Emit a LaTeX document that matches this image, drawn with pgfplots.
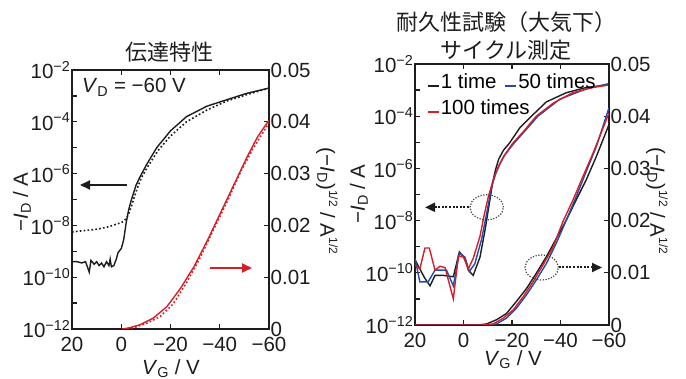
\documentclass[border=0pt]{standalone}
\usepackage{pgfplots}
\pgfplotsset{compat=1.18}
\usepackage{fontspec}
\setmainfont{Liberation Sans}
\newfontfamily\jp{Noto Sans CJK JP}
\usetikzlibrary{arrows.meta}
\definecolor{rred}{RGB}{215,30,38}
\definecolor{bblue}{RGB}{30,78,165}
\definecolor{kblack}{RGB}{30,28,28}
\newcommand{\tfnt}{\fontsize{20.5}{22}\selectfont}
\newcommand{\hsup}[1]{\raisebox{0.8ex}{\fontsize{12}{12}\selectfont #1}}
\begin{document}
\begin{tikzpicture}
\useasboundingbox (0pt,0pt) rectangle (686pt,378pt);
% ---------------- left panel ----------------
\begin{axis}[at={(72pt,49pt)}, anchor=south west, scale only axis, width=197pt, height=259pt,
  ymode=log, ymin=1e-12, ymax=1e-2, x dir=reverse, xmin=-60, xmax=20,
  xtick={20,0,-20,-40,-60}, xticklabels={20,0,−20,−40,−60},
  ytick={1e-12,1e-10,1e-8,1e-6,1e-4,1e-2},
  yticklabels={{10\textsuperscript{−12}},{10\textsuperscript{−10}},{10\textsuperscript{−8}},{10\textsuperscript{−6}},{10\textsuperscript{−4}},{10\textsuperscript{−2}}},
  minor ytick={1e-11,1e-9,1e-7,1e-5,1e-3}, ytick pos=left,
  tick align=inside, major tick length=5pt, minor tick length=5pt,
  axis line style={line width=1.5pt, kblack}, every tick/.style={line width=1.3pt, kblack},
  tick label style={font=\tfnt, text=kblack},
  yticklabel style={inner sep=1.5pt}, xticklabel style={inner sep=1pt, yshift=-7pt}]
\addplot[line width=1.4pt, kblack] coordinates {
(20,3.98e-10)(18,3.98e-10)(16,3.55e-10)(14.5,3.98e-10)(13,1.58e-10)(12.3,4.47e-10)
(11,3.16e-10)(10,3.98e-10)(9,2.82e-10)(8,3.55e-10)(7,2.51e-10)(6,3.98e-10)(5,2.82e-10)
(4.5,5.01e-10)(4,2.51e-10)(3,2.82e-10)(2,5.01e-10)(1.3,8.91e-10)(0.5,1.12e-9)(0,1.26e-9)
(-1,2.82e-9)(-2,1.26e-8)(-3,3.98e-8)(-4,8.91e-8)(-5,1.78e-7)(-6,3.55e-7)(-7.5,7.08e-7)
(-10.3,2.24e-6)(-14.4,1.0e-5)(-20,4.47e-5)(-26.5,1.58e-4)(-34.7,3.98e-4)(-42.8,7.08e-4)
(-51,1.26e-3)(-60,2.0e-3)};
\addplot[line width=1.6pt, dash pattern=on 1.7pt off 2.2pt, kblack] coordinates {
(20,5.62e-9)(15,6.31e-9)(10,7.08e-9)(5,8.91e-9)(2,1.12e-8)(0,1.26e-8)(-2,1.78e-8)
(-3,2.82e-8)(-4,5.01e-8)(-5,1.0e-7)(-6.2,2.24e-7)(-8,6.31e-7)(-10.3,1.58e-6)(-15,7.94e-6)
(-20,2.82e-5)(-26.5,1.0e-4)(-34.7,2.82e-4)(-42.8,6.31e-4)(-51,1.12e-3)(-60,2.0e-3)};
\end{axis}
\begin{axis}[at={(72pt,49pt)}, anchor=south west, scale only axis, width=197pt, height=259pt,
  ymin=0, ymax=0.05, x dir=reverse, xmin=-60, xmax=20,
  axis x line=none, axis y line*=right, scaled y ticks=false,
  ytick={0,0.01,0.02,0.03,0.04,0.05}, yticklabels={0,0.01,0.02,0.03,0.04,0.05},
  tick align=inside, major tick length=5pt,
  axis line style={line width=1.5pt, kblack}, every tick/.style={line width=1.3pt, kblack},
  tick label style={font=\tfnt, text=kblack}, yticklabel style={inner sep=1.5pt}]
\addplot[line width=1.4pt, rred] coordinates {
(-0.4,0)(-3,0.0002)(-7.5,0.0008)(-13,0.0021)(-18.5,0.0043)(-24,0.0078)(-29.5,0.012)
(-35,0.0171)(-40.5,0.0226)(-45.9,0.028)(-51.4,0.0335)(-55.5,0.0372)(-60,0.0403)};
\addplot[line width=1.6pt, dash pattern=on 1.7pt off 2.2pt, rred] coordinates {
(-2.5,0)(-6,0.0004)(-10.3,0.0011)(-15.8,0.0024)(-21.2,0.0049)(-26.7,0.0091)(-32.2,0.0139)
(-37.7,0.0194)(-43.2,0.0248)(-48.7,0.0306)(-53.5,0.0348)(-60,0.0398)};
\end{axis}
% ---------------- right panel ----------------
\begin{axis}[at={(415pt,53pt)}, anchor=south west, scale only axis, width=194pt, height=261pt,
  ymode=log, ymin=1e-12, ymax=1e-2, x dir=reverse, xmin=-60, xmax=20,
  xtick={20,0,-20,-40,-60}, xticklabels={20,0,−20,−40,−60},
  ytick={1e-12,1e-10,1e-8,1e-6,1e-4,1e-2},
  yticklabels={{10\textsuperscript{−12}},{10\textsuperscript{−10}},{10\textsuperscript{−8}},{10\textsuperscript{−6}},{10\textsuperscript{−4}},{10\textsuperscript{−2}}},
  minor ytick={1e-11,1e-9,1e-7,1e-5,1e-3}, ytick pos=left,
  tick align=inside, major tick length=5pt, minor tick length=5pt,
  axis line style={line width=1.5pt, kblack}, every tick/.style={line width=1.3pt, kblack},
  tick label style={font=\tfnt, text=kblack},
  yticklabel style={inner sep=1.5pt}, xticklabel style={inner sep=1pt, yshift=-7pt},
  legend columns=2, legend cell align=left,
  legend style={draw=none, fill=none, at={(0.062,0.967)}, anchor=north west, font=\tfnt,
    inner sep=0pt, row sep=0pt,
    nodes={inner sep=1pt, text height=15pt, text depth=9pt},
    /tikz/every even column/.append style={column sep=7pt}},
  legend image code/.code={\draw[#1, line width=1.6pt] (0pt,0pt) -- (11pt,0pt);}]
\addplot[line width=1.4pt, kblack] coordinates {
(20,3.16e-10)(18,1.41e-10)(16,6.31e-11)(13.8,3.16e-11)(11.75,7.94e-11)(8.3,7.94e-11)
(4.2,7.08e-11)(1.7,6.31e-10)(-0.6,3.55e-10)(-2,1.26e-10)(-4,7.94e-11)(-6.8,3.98e-10)
(-8.9,4.47e-9)(-10.9,6.31e-8)(-12,2.82e-7)(-13.2,8.91e-7)(-14.5,2.24e-6)(-16.5,5.01e-6)
(-18.8,8.91e-6)(-23.2,3.55e-5)(-28,1.0e-4)(-34.2,3.55e-4)(-42.4,7.94e-4)(-50.6,1.26e-3)
(-60,1.58e-3)};
\addlegendentry{1 time}
\addplot[line width=1.4pt, bblue] coordinates {
(20,3.55e-10)(18,4.47e-11)(14.6,4.47e-11)(11.75,1.26e-10)(7,1.26e-10)(4.2,3.16e-11)
(1.7,5.62e-10)(-0.6,3.98e-10)(-2.4,1.12e-10)(-4.7,2.24e-10)(-7.5,2.0e-9)(-9.6,2.0e-8)
(-11.6,2.0e-7)(-13.3,6.31e-7)(-14.9,1.41e-6)(-16.9,3.16e-6)(-20.7,8.91e-6)(-25,2.51e-5)
(-30.7,1.0e-4)(-39.7,4.47e-4)(-50.6,1.12e-3)(-60,1.78e-3)};
\addlegendentry{50 times}
\addplot[line width=1.4pt, rred] coordinates {
(20,2.0e-10)(18,1.41e-10)(15.9,8.91e-10)(14.1,8.91e-10)(11.75,1.26e-10)(9.7,1.78e-10)
(7.6,1.58e-10)(4.2,1.0e-11)(2.1,4.47e-10)(0,3.98e-10)(-2,1.41e-10)(-4,3.55e-10)
(-6.8,2.51e-9)(-8.5,1.58e-8)(-10.2,7.94e-8)(-11.3,1.78e-7)(-12.8,5.01e-7)(-14.5,1.26e-6)
(-16.5,2.82e-6)(-20.2,8.91e-6)(-24.6,2.51e-5)(-30,1.0e-4)(-37,3.16e-4)(-45,7.94e-4)
(-53.4,1.26e-3)(-60,1.58e-3)};
\addlegendentry{\makebox[0pt][l]{100 times}}
\end{axis}
\begin{axis}[at={(415pt,53pt)}, anchor=south west, scale only axis, width=194pt, height=261pt,
  ymin=0, ymax=0.05, x dir=reverse, xmin=-60, xmax=20,
  axis x line=none, axis y line*=right, scaled y ticks=false,
  ytick={0,0.01,0.02,0.03,0.04,0.05}, yticklabels={0,0.01,0.02,0.03,0.04,0.05},
  tick align=inside, major tick length=5pt,
  axis line style={line width=1.5pt, kblack}, every tick/.style={line width=1.3pt, kblack},
  tick label style={font=\tfnt, text=kblack}, yticklabel style={inner sep=1.5pt}]
\addplot[line width=1.4pt, kblack] coordinates {
(20,0)(-6,0)(-9.5,0.0002)(-13.6,0.001)(-17.7,0.0022)(-21.8,0.0045)(-26,0.007)(-30,0.0099)
(-34.2,0.0131)(-38.3,0.0166)(-42.4,0.0201)(-46.5,0.024)(-50.6,0.0278)(-54.8,0.0323)
(-60,0.0384)};
\addplot[line width=1.4pt, bblue] coordinates {
(20,0)(-10,0)(-13.6,0.0002)(-17.7,0.0013)(-21.8,0.0032)(-26,0.0058)(-30,0.0086)
(-34.2,0.0118)(-38.3,0.0157)(-42.4,0.0201)(-46.5,0.0246)(-50.6,0.0294)(-54.8,0.0342)
(-60,0.0416)};
\addplot[line width=1.4pt, rred] coordinates {
(20,0)(-8.5,0)(-12.2,0.0002)(-16.4,0.0013)(-20.5,0.0029)(-24.6,0.0054)(-28.7,0.0083)
(-32.8,0.0115)(-37,0.015)(-41,0.0198)(-45.2,0.024)(-49.3,0.0285)(-53.4,0.0329)
(-60,0.0406)};
\end{axis}
% ---------------- annotations ----------------
\node[font=\jp\fontsize{22}{22}\selectfont, text=kblack] at (169pt,326pt) {伝達特性};
\node[font=\jp\fontsize{22}{22}\selectfont, text=kblack] at (506pt,356pt) {耐久性試験（大気下）};
\node[font=\jp\fontsize{22}{22}\selectfont, text=kblack] at (506pt,328pt) {サイクル測定};
\node[font=\tfnt, text=kblack, anchor=base west, inner sep=0pt] at (82pt,285pt) {\textit{V}\textsubscript{D} = −60 V};
\node[font=\tfnt, text=kblack, rotate=90] at (22pt,176pt) {−\textit{I}\textsubscript{D} / A};
\node[font=\tfnt, text=kblack, rotate=90] at (359pt,184pt) {−\textit{I}\textsubscript{D} / A};
\node[font=\tfnt, text=kblack, rotate=-90] at (327pt,177pt) {(−\textit{I}\textsubscript{D})\hsup{1/2} / A\hsup{1/2}};
\node[font=\tfnt, text=kblack, rotate=-90] at (657pt,177pt) {(−\textit{I}\textsubscript{D})\hsup{1/2} / A\hsup{1/2}};
\node[font=\tfnt, text=kblack, anchor=base, inner sep=0pt] at (171pt,4pt) {\textit{V}\textsubscript{G} / V};
\node[font=\tfnt, text=kblack, anchor=base, inner sep=0pt] at (513pt,13pt) {\textit{V}\textsubscript{G} / V};
\draw[kblack, line width=2pt, -{Triangle[length=10pt,width=9pt]}] (127pt,193pt) -- (80pt,193pt);
\draw[rred, line width=2pt, -{Triangle[length=10pt,width=9pt]}] (210pt,110pt) -- (252pt,110pt);
\draw[kblack!85, line width=1.2pt, dash pattern=on 1.2pt off 1.6pt] (486.7pt,170.7pt) ellipse [x radius=16.7pt, y radius=12.5pt];
\draw[kblack!85, line width=1.2pt, dash pattern=on 1.2pt off 1.6pt] (541.7pt,110.5pt) ellipse [x radius=16.7pt, y radius=12.5pt];
\draw[kblack, line width=2pt, dash pattern=on 2pt off 1.6pt, -{Triangle[length=10pt,width=9pt]}] (469pt,170.7pt) -- (425pt,170.7pt);
\draw[kblack, line width=2pt, dash pattern=on 2pt off 1.6pt, -{Triangle[length=10pt,width=9pt]}] (558.5pt,110.5pt) -- (602pt,110.5pt);
\end{tikzpicture}
\end{document}
